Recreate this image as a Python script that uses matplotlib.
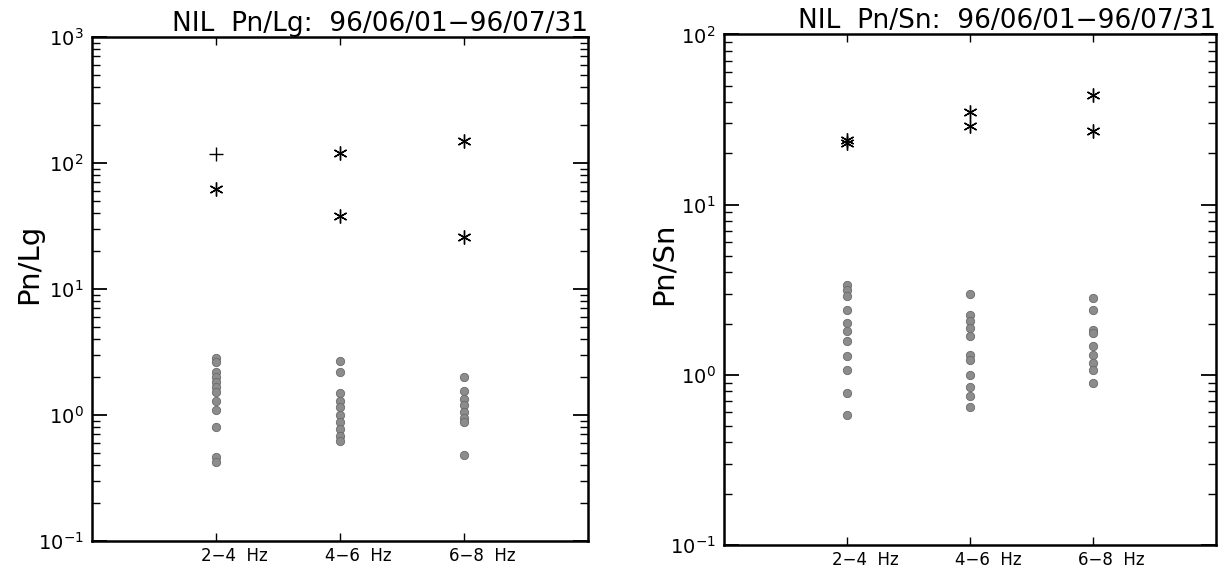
import matplotlib
matplotlib.use("Agg")
import matplotlib.pyplot as plt
import matplotlib.transforms as mtransforms
from matplotlib.ticker import LogLocator, NullFormatter, FixedLocator

plt.rcParams['font.family'] = ['DejaVu Sans']
plt.rcParams['mathtext.fontset'] = 'dejavusans'

bands = ["2\u22124  Hz", "4\u22126  Hz", "6\u22128  Hz"]
band_pos = [1, 2, 3]

# Pn/Lg, explosions (asterisks) and earthquakes (grey dots)
lg_star_24 = [118, 62]
lg_star_46 = [120, 38]
lg_star_68 = [150, 26]
lg_dot_24 = [2.85, 2.65, 2.21, 2.01, 1.84, 1.68, 1.53, 1.28, 1.10, 0.80, 0.46, 0.42]
lg_dot_46 = [2.7, 2.2, 1.5, 1.3, 1.15, 1.0, 0.88, 0.78, 0.68, 0.62]
lg_dot_68 = [2.0, 1.55, 1.35, 1.2, 1.05, 0.95, 0.88, 0.48]

# Pn/Sn
sn_star_24 = [24, 23]
sn_star_46 = [35, 29]
sn_star_68 = [44, 27]
sn_dot_24 = [3.38, 3.16, 2.89, 2.41, 2.01, 1.80, 1.57, 1.28, 1.07, 0.78, 0.58]
sn_dot_46 = [2.99, 2.25, 2.06, 1.88, 1.68, 1.31, 1.22, 1.0, 0.85, 0.75, 0.65]
sn_dot_68 = [2.82, 2.41, 1.84, 1.75, 1.47, 1.31, 1.17, 1.07, 0.89]


def drawPanel(ax, stars, dots, ylim, ylabel, title, label_x, plus_first=False):
    for i, (s, d) in enumerate(zip(stars, dots)):
        x = band_pos[i]
        ax.plot([x] * len(d), d, 'o', ms=6, color='#8c8c8c',
                mec='#6a6a6a', mew=0.6, ls='none')
        for j, v in enumerate(s):
            mk = '+' if (plus_first and i == 0 and j == 0) else (6, 2, 0)
            ax.plot([x], [v], marker=mk, ms=10, color='black', mew=1.0, ls='none')

    ax.set_yscale('log')
    ax.set_ylim(*ylim)
    ax.set_xlim(0, 4)
    ax.xaxis.set_major_locator(FixedLocator(band_pos))
    ax.set_xticklabels([])
    # band labels sit a bit right of their ticks, as in the original
    trans = mtransforms.blended_transform_factory(ax.transData, ax.transAxes)
    trans = trans + mtransforms.ScaledTranslation(0.18, 0, ax.figure.dpi_scale_trans)
    for x, lab in zip(band_pos, bands):
        ax.text(x, -0.03, lab, transform=trans, ha='center', va='center', fontsize=12)

    ax.yaxis.set_major_locator(LogLocator(base=10, numticks=10))
    ax.yaxis.set_minor_locator(LogLocator(base=10, subs=range(2, 10), numticks=20))
    ax.yaxis.set_minor_formatter(NullFormatter())
    ax.tick_params(axis='y', which='major', direction='in', length=11, width=1.3,
                   left=True, right=True, labelsize=14, pad=6)
    ax.tick_params(axis='y', which='minor', direction='in', length=6, width=1.0,
                   left=True, right=True)
    ax.tick_params(axis='x', which='major', direction='in', length=6, width=1.0,
                   top=True, bottom=True)
    for sp in ax.spines.values():
        sp.set_linewidth(1.8)

    ax.set_ylabel(ylabel, fontsize=21)
    ax.yaxis.set_label_coords(label_x, 0.55)
    ax.set_title(title, fontsize=19, loc='right', pad=3)


fig = plt.figure(figsize=(12.25, 5.73), dpi=100)
ax1 = fig.add_axes([0.0751, 0.0558, 0.405, 0.880])
ax2 = fig.add_axes([0.591, 0.0490, 0.4016, 0.891])

drawPanel(ax1, [lg_star_24, lg_star_46, lg_star_68], [lg_dot_24, lg_dot_46, lg_dot_68],
          (0.1, 1000), "Pn/Lg", "NIL  Pn/Lg:  96/06/01\u221296/07/31", -0.098,
          plus_first=True)
drawPanel(ax2, [sn_star_24, sn_star_46, sn_star_68], [sn_dot_24, sn_dot_46, sn_dot_68],
          (0.1, 100), "Pn/Sn", "NIL  Pn/Sn:  96/06/01\u221296/07/31", -0.094)

fig.savefig("out.png", dpi=100)
